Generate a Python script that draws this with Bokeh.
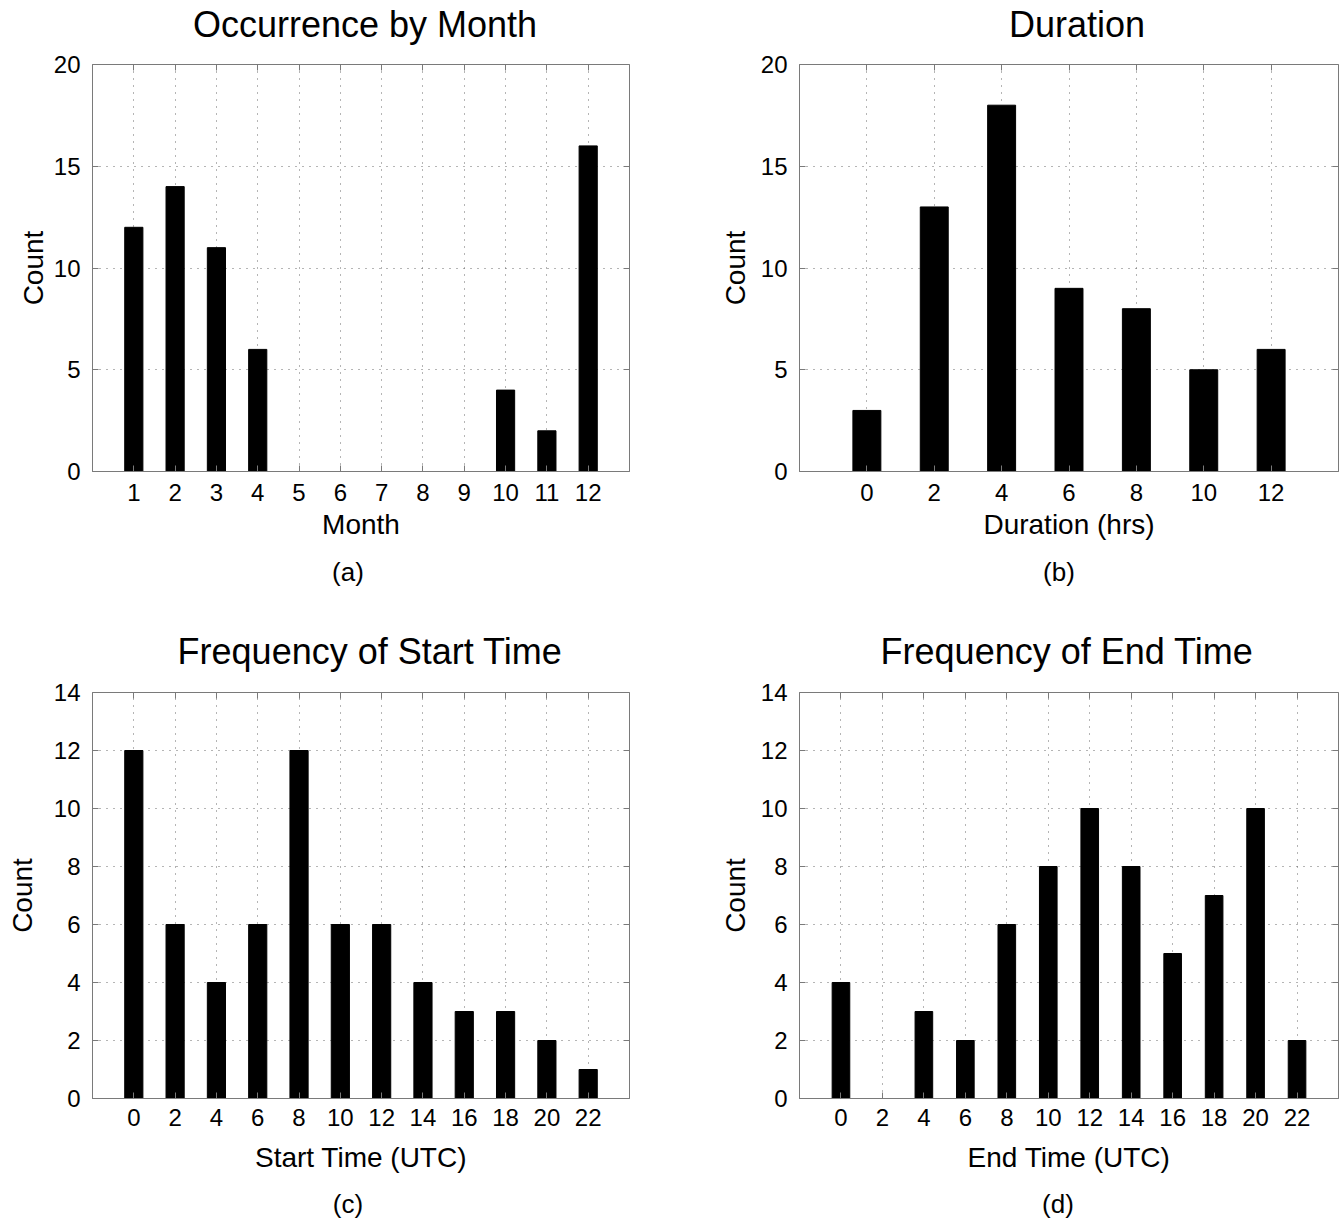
from bokeh.plotting import figure
from bokeh.layouts import gridplot
from bokeh.models import Range1d, FixedTicker, LinearAxis, CustomJSTickFormatter
from bokeh.core.properties import value
from bokeh.embed import file_html
from bokeh.resources import INLINE

# ---- data ----
months = [1, 2, 3, 4, 5, 6, 7, 8, 9, 10, 11, 12]
month_counts = [12, 14, 11, 6, 0, 0, 0, 0, 0, 4, 2, 16]

duration_hrs = [0, 2, 4, 6, 8, 10, 12]
duration_counts = [3, 13, 18, 9, 8, 5, 6]

start_hours = [0, 2, 4, 6, 8, 10, 12, 14, 16, 18, 20, 22]
start_counts = [12, 6, 4, 6, 12, 6, 6, 4, 3, 3, 2, 1]

end_hours = [0, 2, 4, 6, 8, 10, 12, 14, 16, 18, 20, 22]
end_counts = [4, 0, 3, 2, 6, 8, 10, 8, 5, 7, 10, 2]

month_ticks = [1, 2, 3, 4, 5, 6, 7, 8, 9, 10, 11, 12]
duration_ticks = [0, 2, 4, 6, 8, 10, 12]
hour_ticks = [0, 2, 4, 6, 8, 10, 12, 14, 16, 18, 20, 22]
count_ticks_top = [0, 5, 10, 15, 20]
count_ticks_bottom = [0, 2, 4, 6, 8, 10, 12, 14]

titles = ["Occurrence by Month", "Duration", "Frequency of Start Time", "Frequency of End Time"]
captions = ["(a)", "(b)", "(c)", "(d)"]
x_labels = ["Month", "Duration (hrs)", "Start Time (UTC)", "End Time (UTC)"]

FONT = "Liberation Sans"
GREY = "#7a7a7a"
W = 671


def panel(xlabel, xs, counts, xrange_, yrange_, xticks, yticks, bar_w, height,
          bl, br, bt, bb, ylab_standoff, xtick_standoff, xlabel_standoff):
    p = figure(width=W, height=height, output_backend="svg", toolbar_location=None,
               x_range=Range1d(*xrange_), y_range=Range1d(*yrange_),
               min_border_left=bl, min_border_right=br, min_border_top=bt,
               min_border_bottom=bb)
    p.vbar(x=xs, top=counts, width=bar_w, fill_color="black", line_color="black")

    p.xaxis.ticker = FixedTicker(ticks=xticks)
    p.yaxis.ticker = FixedTicker(ticks=yticks)
    p.xaxis.axis_label = xlabel
    p.yaxis.axis_label = "Count"
    for ax in (p.xaxis[0], p.yaxis[0]):
        ax.axis_label_text_font = FONT
        ax.axis_label_text_font_size = "28px"
        ax.axis_label_text_font_style = "normal"
        ax.axis_label_text_color = "black"
        ax.major_label_text_font = FONT
        ax.major_label_text_font_size = "24px"
        ax.major_label_text_color = "black"
        ax.axis_line_color = GREY
        ax.major_tick_line_color = GREY
        ax.major_tick_in = 6
        ax.major_tick_out = 0
        ax.minor_tick_line_color = None
    p.xaxis.major_label_standoff = xtick_standoff
    p.xaxis.axis_label_standoff = xlabel_standoff
    p.yaxis.major_label_standoff = 12
    p.yaxis.axis_label_standoff = ylab_standoff

    for loc, tk in (("above", xticks), ("right", yticks)):
        ax = LinearAxis(ticker=FixedTicker(ticks=tk),
                        formatter=CustomJSTickFormatter(code="return ''"),
                        major_label_standoff=0, major_tick_in=6, major_tick_out=0,
                        axis_line_color=None, major_tick_line_color=GREY,
                        minor_tick_line_color=None, major_label_text_font_size="1px")
        p.add_layout(ax, loc)

    p.grid.grid_line_color = "#6a6a6a"
    p.grid.grid_line_dash = "1 6"
    p.grid.grid_line_width = 1
    p.outline_line_color = GREY
    p.outline_line_width = 1
    p.background_fill_color = "white"
    p.border_fill_color = "white"
    return p


def strip(height, bl, br, items):
    # items: (text, y_from_bottom, font_size, x_offset)
    s = figure(width=W, height=height, output_backend="svg", toolbar_location=None,
               x_range=Range1d(0, 1), y_range=Range1d(0, height),
               x_axis_type=None, y_axis_type=None,
               min_border_left=bl, min_border_right=br, min_border_top=0,
               min_border_bottom=0)
    s.outline_line_color = None
    s.background_fill_color = "white"
    s.border_fill_color = "white"
    for txt, y, fs, dx in items:
        s.text(x=[0.5], y=[y], text=[txt], text_font=value(FONT),
               text_font_size=value(fs), text_align="center",
               text_baseline="middle", text_color="black", x_offset=dx)
    return s


# top strip: titles of (a) and (b)
sA1 = strip(50, 92, 42, [(titles[0], 26, "36px", 4)])
sA2 = strip(50, 128, 4, [(titles[1], 26, "36px", 8)])

pa = panel(x_labels[0], months, month_counts, (0, 13), (0, 20), month_ticks,
           count_ticks_top, 0.44, 505, 92, 42, 14, 84, 2, 12, 5)
pb = panel(x_labels[1], duration_hrs, duration_counts, (-2, 14), (0, 20), duration_ticks,
           count_ticks_top, 0.83, 505, 128, 4, 14, 84, 7, 12, 5)

# middle strip: captions (a)/(b) and titles of (c)/(d)
sB1 = strip(125, 92, 42, [(captions[0], 109, "26px", -13), (titles[2], 29, "36px", 9)])
sB2 = strip(125, 128, 4, [(captions[1], 109, "26px", -10), (titles[3], 29, "36px", -2)])

pc = panel(x_labels[2], start_hours, start_counts, (-2, 24), (0, 14), hour_ticks,
           count_ticks_bottom, 0.88, 505, 92, 42, 12, 87, 13, 10, 13)
pd = panel(x_labels[3], end_hours, end_counts, (-2, 24), (0, 14), hour_ticks,
           count_ticks_bottom, 0.85, 505, 128, 4, 12, 87, 7, 10, 13)

# bottom strip: captions (c)/(d)
sC1 = strip(37, 92, 42, [(captions[2], 19, "26px", -13)])
sC2 = strip(37, 128, 4, [(captions[3], 19, "26px", -11)])

grid = gridplot([[sA1, sA2], [pa, pb], [sB1, sB2], [pc, pd], [sC1, sC2]],
                toolbar_location=None)

open("out.html", "w").write(file_html(grid, INLINE))
